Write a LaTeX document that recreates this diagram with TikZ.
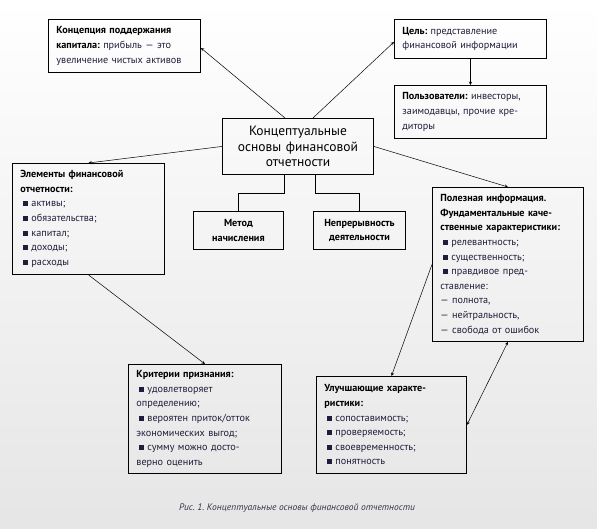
\documentclass[tikz,border=0pt]{standalone}
\usepackage{fontspec}
\setmainfont{PT Sans}
\usetikzlibrary{arrows}
\definecolor{txtblue}{RGB}{30,30,58}
\newcommand{\bul}{\hspace*{3pt}\rule[0.5pt]{5pt}{5pt}\hspace{3pt}}
\newcommand{\hd}[1]{\textbf{\color{black}#1}}
\frenchspacing

\begin{document}
\begin{tikzpicture}[x=1pt, y=1pt, >=stealth,
    box/.style={draw, line width=0.9pt, anchor=north west, align=left, inner xsep=8pt, inner ysep=0pt,
        text=txtblue, font=\fontsize{10.2}{14.6}\selectfont},
    link/.style={->, line width=0.5pt}]
    \shade[top color=white, bottom color=gray!20] (0,0) rectangle (597,529);
    \useasboundingbox (0,0) rectangle (597,529);

    \node[box, text width=136pt, minimum height=53pt] (konc) at (48,510)
        {\hd{Концепция поддержания}\\ \hd{капитала:} прибыль — это\\ увеличение чистых активов};
    \node[box, text width=136pt, minimum height=39pt] (cel) at (394,510)
        {\hd{Цель:} представление\\ финансовой информации};
    \node[box, text width=136pt, minimum height=53pt] (polz) at (394,444)
        {\hd{Пользователи:} инвесторы,\\ заимодавцы, прочие кре-\\ диторы};
    \node[box, text width=135pt, minimum height=56pt, align=center, text=black,
        font=\fontsize{13.5}{15.5}\selectfont] (osn) at (222,411)
        {Концептуальные\\ основы финансовой\\ отчетности};
    \node[box, text width=74pt, minimum height=38pt, align=center] (metod) at (193,318)
        {\hd{Метод}\\ \hd{начисления}};
    \node[box, text width=76pt, minimum height=38pt, align=center] (nepr) at (313,318)
        {\hd{Непрерывность}\\ \hd{деятельности}};
    \node[box, text width=136pt, minimum height=111pt] (elem) at (12,366)
        {\hd{Элементы финансовой}\\ \hd{отчетности:}\\ \bul активы;\\ \bul обязательства;\\
         \bul капитал;\\ \bul доходы;\\ \bul расходы};
    \node[box, text width=135pt, minimum height=154pt] (polezn) at (432,342)
        {\hd{Полезная информация.}\\ \hd{Фундаментальные каче-}\\ \hd{ственные характеристики:}\\
         \bul релевантность;\\ \bul существенность;\\ \bul правдивое пред-\\ ставление:\\
         — полнота,\\ — нейтральность,\\ — свобода от ошибок};
    \node[box, text width=137pt, minimum height=109pt] (krit) at (128,165)
        {\hd{Критерии признания:}\\ \bul удовлетворяет\\ определению;\\ \bul вероятен приток/отток\\
         экономических выгод;\\ \bul сумму можно досто-\\ верно оценить};
    \node[box, text width=134pt, minimum height=97pt] (uluch) at (316,153)
        {\hd{Улучшающие характе-}\\ \hd{ристики:}\\ \bul сопоставимость;\\ \bul проверяемость;\\
         \bul своевременность;\\ \bul понятность};

    \draw[link] ([xshift=-13pt]osn.north) -- ([yshift=-2pt]konc.east);
    \draw[link] ([xshift=15pt]osn.north) -- ([yshift=-3pt]cel.west);
    \draw[link] (cel.south) -- (polz.north);
    \draw[link] (osn.west) -- (elem.north);
    \draw[link] (osn.east) -- (polezn.north);
    \draw[link] (elem.south) -- (krit.north);
    \draw[link] (polezn.west) -- (uluch.north);
    \draw[link, <->] (polezn.south) -- (uluch.east);
    \draw[line width=0.9pt] ([xshift=-14pt]osn.south) -- ++(0,-19) -| (metod.north);
    \draw[line width=0.9pt] ([xshift=17pt]osn.south) -- ++(0,-19) -| (nepr.north);

    \node[font=\fontsize{9.5}{11}\selectfont\itshape, text=gray!25!txtblue] (cap) at (297,21)
        {Рис. 1. Концептуальные основы финансовой отчетности};
\end{tikzpicture}
\end{document}
